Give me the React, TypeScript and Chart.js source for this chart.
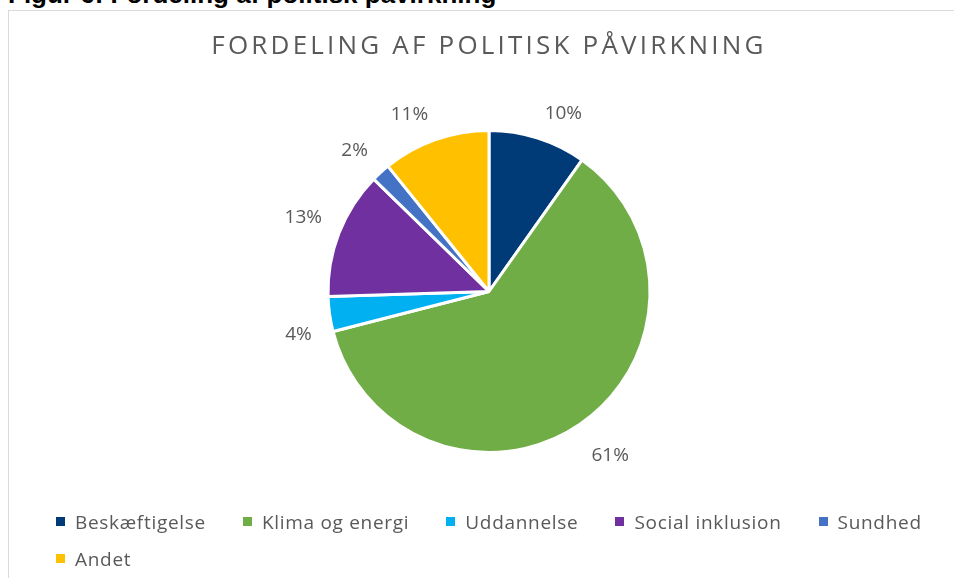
import React, { useEffect, useRef } from "react";
import { Chart, registerables } from "chart.js";

Chart.register(...registerables);

const categories = ["Beskæftigelse", "Klima og energi", "Uddannelse", "Social inklusion", "Sundhed", "Andet"];
const shares = [9.8, 61.2, 3.5, 12.8, 1.9, 10.8];
const sliceColors = ["#003B77", "#70AD47", "#00B0F0", "#7030A0", "#4472C4", "#FFC000"];
const chartTitle = "FORDELING AF POLITISK PÅVIRKNING";
const figureCaption = "Figur 6: Fordeling af politisk påvirkning";

const TEXT_COLOR = "#595959";
const FONT = "'Open Sans', sans-serif";

const titleSpacingPlugin = {
  id: "titleSpacing",
  beforeDraw(chart: any) {
    (chart.ctx as any).letterSpacing = "3.2px";
  },
  beforeDatasetsDraw(chart: any) {
    (chart.ctx as any).letterSpacing = "0px";
  },
};

// Excel-like "outside end" labels: a label box touches a point just outside the arc
const outsideLabelsPlugin = {
  id: "outsideLabels",
  afterDatasetsDraw(chart: any) {
    const ctx = chart.ctx;
    const meta = chart.getDatasetMeta(0);
    const data = chart.data.datasets[0].data as number[];
    const size = 19;
    const boxH = 28;
    ctx.save();
    (ctx as any).letterSpacing = "0px";
    ctx.font = `${size}px ${FONT}`;
    ctx.fillStyle = TEXT_COLOR;
    ctx.textAlign = "center";
    ctx.textBaseline = "alphabetic";
    meta.data.forEach((arc: any, i: number) => {
      const { x, y, startAngle, endAngle, outerRadius } = arc.getProps(
        ["x", "y", "startAngle", "endAngle", "outerRadius"],
        true
      );
      const text = `${Math.round(data[i])}%`;
      const w = ctx.measureText(text).width + 4;
      const mid = (startAngle + endAngle) / 2;
      const ux = Math.cos(mid);
      const uy = Math.sin(mid);
      const r = outerRadius + 16;
      const px = x + ux * r;
      const py = y + uy * r;
      const cx = px + Math.sign(ux) * (w / 2);
      const cy = py + Math.sign(uy) * (boxH / 2) + 3;
      ctx.fillText(text, cx, cy + size * 0.357);
    });
    ctx.restore();
  },
};

export default function App() {
  const canvasRef = useRef<HTMLCanvasElement | null>(null);

  useEffect(() => {
    if (!canvasRef.current) return;
    const chart = new Chart(canvasRef.current, {
      type: "pie",
      data: {
        labels: categories,
        datasets: [
          {
            data: shares,
            backgroundColor: sliceColors,
            borderColor: "#FFFFFF",
            borderWidth: 3,
            radius: 161,
          } as any,
        ],
      },
      options: {
        responsive: false,
        maintainAspectRatio: false,
        animation: false,
        devicePixelRatio: 1,
        layout: { padding: { top: 0, left: 0, right: 2, bottom: 129 } },
        plugins: {
          legend: { display: false },
          tooltip: { enabled: false },
          title: {
            display: true,
            text: chartTitle,
            color: TEXT_COLOR,
            font: { family: FONT, size: 26, weight: "normal", lineHeight: 1.2 },
            padding: { top: 20, bottom: 48.8 },
          },
        },
      },
      plugins: [titleSpacingPlugin, outsideLabelsPlugin],
    });
    return () => chart.destroy();
  }, []);

  return (
    <div style={{ position: "fixed", inset: 0, overflow: "hidden", background: "#fff" }}>
      <div
        style={{
          position: "absolute",
          left: 8,
          top: -19,
          fontFamily: "'Liberation Sans', Arial, sans-serif",
          fontWeight: "bold",
          fontSize: 26,
          lineHeight: "26px",
          color: "#000",
          whiteSpace: "nowrap",
        }}
      >
        {figureCaption}
      </div>
      <div
        style={{
          position: "absolute",
          left: 8,
          top: 10,
          width: 962,
          height: 590,
          border: "1px solid #D9D9D9",
          background: "#fff",
        }}
      >
        <canvas ref={canvasRef} width={962} height={590} style={{ display: "block", width: 962, height: 590 }} />
        <div
          style={{
            position: "absolute",
            left: 47,
            top: 492,
            width: 900,
            display: "flex",
            flexWrap: "wrap",
            columnGap: 37,
            fontFamily: FONT,
            fontSize: 19,
            letterSpacing: "0.7px",
            color: TEXT_COLOR,
          }}
        >
          {categories.map((c, i) => (
            <div key={c} style={{ display: "flex", alignItems: "center", height: 37, whiteSpace: "nowrap" }}>
              <span style={{ display: "inline-block", width: 9, height: 9, background: sliceColors[i], marginRight: 10 }} />
              <span>{c}</span>
            </div>
          ))}
        </div>
      </div>
    </div>
  );
}
